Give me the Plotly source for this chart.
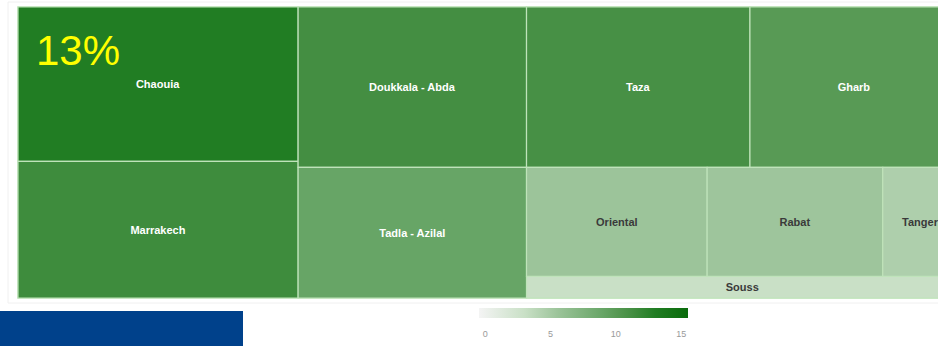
import plotly.graph_objects as go

# Regions drawn as tiles
regions = ["Chaouia", "Marrakech", "Doukkala - Abda", "Tadla - Azilal",
           "Taza", "Gharb", "Oriental", "Rabat", "Tanger", "Souss"]
# Tile size: share of the total (%)
sizes = [15.8, 14.0, 13.4, 10.9, 13.1, 12.2, 7.2, 7.0, 3.0, 3.4]
# Colour measure (0-15 scale)
shades = [13.0, 11.5, 11.2, 9.0, 11.0, 10.0, 5.5, 5.4, 4.5, 3.0]
# Block that holds each region in the slice/dice layout
blocks = ["colA", "colA", "colB", "colB", "rowC1", "rowC1",
          "rowC2", "rowC2", "rowC2", "colC"]

# Layout skeleton: three columns, the third split into two rows + a strip
frame_ids = ["all", "colA", "colB", "colC", "rowC1", "rowC2"]
frame_parents = ["", "all", "all", "all", "colC", "colC"]

colorbar_ticks = [0, 5, 10, 15]
headline = "13%"

# Colour ramp stops (value, colour)
ramp_min, ramp_max = -0.5, 15.5
ramp = [(-0.5, "#f4f4f4"), (3.0, "#c9e0c6"), (5.5, "#9cc49a"),
        (9.0, "#67a566"), (10.0, "#589a55"), (11.25, "#438e41"),
        (13.0, "#217d23"), (15.5, "#096b0b")]
colorscale = [[(v - ramp_min) / (ramp_max - ramp_min), c] for v, c in ramp]

ids = frame_ids + regions
parents = frame_parents + blocks
values = [0] * len(frame_ids) + sizes
colors = [10.0] * len(frame_ids) + shades
texts = [""] * len(frame_ids) + regions
text_colors = ["#ffffff"] * len(frame_ids) + [
    "#ffffff" if s >= 8 else "#3a3a3a" for s in shades]

W, H = 976, 346
ML, MR, MT, MB = 18, 18, 7, 48
PW, PH = W - ML - MR, H - MT - MB


def px_x(x):
    return (x - ML) / PW


def px_y(y):
    return (H - MB - y) / PH


fig = go.Figure(go.Treemap(
    ids=ids,
    labels=ids,
    parents=parents,
    values=values,
    branchvalues="remainder",
    sort=False,
    text=texts,
    textinfo="text",
    textposition="middle center",
    textfont=dict(family="Liberation Sans", size=11, weight="bold",
                  color=text_colors),
    hoverinfo="skip",
    tiling=dict(packing="slice-dice", pad=0),
    pathbar=dict(visible=False),
    marker=dict(
        colors=colors,
        colorscale=colorscale,
        cmin=ramp_min,
        cmax=ramp_max,
        pad=dict(t=0, l=0, r=0, b=0),
        line=dict(color="#bfe3ba", width=1.2),
        showscale=True,
        colorbar=dict(
            orientation="h",
            xref="container", yref="container",
            x=605.5 / W, xanchor="center",
            y=1 - 298 / H, yanchor="top",
            len=229, lenmode="pixels",
            thickness=10,
            outlinewidth=0,
            tickvals=colorbar_ticks,
            ticks="outside", ticklen=9, tickcolor="rgba(0,0,0,0)",
            tickfont=dict(family="Liberation Sans", size=9, color="#9a9a9a"),
        ),
    ),
))

fig.update_layout(
    width=W, height=H,
    margin=dict(l=ML, r=MR, t=MT, b=MB),
    paper_bgcolor="#ffffff",
    plot_bgcolor="#ffffff",
    showlegend=False,
    shapes=[
        # card outline
        dict(type="rect", xref="paper", yref="paper",
             x0=px_x(8), x1=px_x(975), y0=px_y(303), y1=px_y(2),
             line=dict(color="#f0f0f0", width=1), fillcolor="rgba(0,0,0,0)",
             layer="below"),
        # blue band, bottom left
        dict(type="rect", xref="paper", yref="paper",
             x0=px_x(0), x1=px_x(243), y0=px_y(346), y1=px_y(311),
             line=dict(width=0), fillcolor="#00418b", layer="above"),
    ],
    annotations=[
        dict(text=headline, xref="paper", yref="paper",
             x=px_x(34), xanchor="left", y=px_y(50), yanchor="middle",
             showarrow=False,
             font=dict(family="Liberation Sans", size=42, color="#ffff00")),
    ],
)

fig.write_html(
    "out.html",
    post_script="document.body.style.margin='0';"
                "document.body.style.overflow='hidden';"
                "document.documentElement.style.overflow='hidden';",
)
